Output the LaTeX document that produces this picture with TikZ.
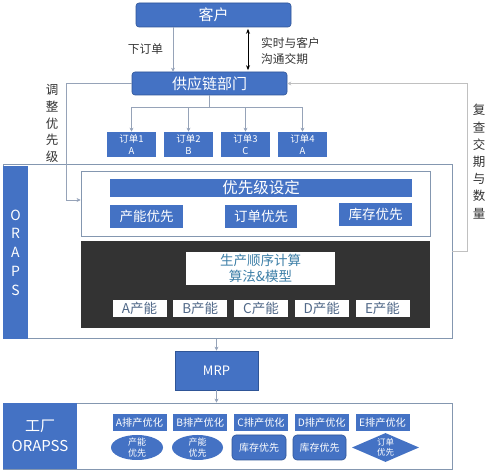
\documentclass[tikz,border=0pt]{standalone}
\usepackage{fontspec}
\setmainfont{Noto Sans CJK SC}
\usetikzlibrary{arrows.meta,shapes.geometric}
\definecolor{office}{RGB}{68, 114, 196}
\definecolor{officedark}{RGB}{47, 85, 151}
\definecolor{slate}{RGB}{132, 151, 176}
\definecolor{linegray}{RGB}{150, 163, 184}
\definecolor{lightgray}{RGB}{192, 192, 192}
\definecolor{coal}{RGB}{51, 51, 51}
\definecolor{tealtext}{RGB}{62, 128, 168}
\definecolor{captext}{RGB}{80, 104, 136}
\tikzset{
  bluebox/.style={draw=officedark, fill=office, text=white, line width=0.6pt, inner sep=0pt, align=center},
  whitebox/.style={draw=slate, fill=white, line width=0.8pt, inner sep=0pt},
  capbox/.style={fill=white, text=captext, inner sep=0pt, minimum width=54pt, minimum height=17pt, font=\fontsize{13.5}{15}\selectfont},
  planbox/.style={bluebox, draw=none, minimum width=54pt, minimum height=17pt, font=\fontsize{10.2}{12}\selectfont},
  conn/.style={draw=linegray, line width=0.7pt, -{Stealth[length=4pt, width=4pt, fill=office]}},
  connlight/.style={draw=lightgray, line width=0.7pt, -{Stealth[length=4pt, width=4pt, fill=office]}},
  vtext/.style={align=center, inner sep=0pt, text=black!80}
}
\begin{document}
\lineskiplimit=-\maxdimen
\begin{tikzpicture}[x=1pt, y=-1pt]
  \useasboundingbox (0,0) rectangle (499,470);

  \node[bluebox, rounded corners=3pt, minimum width=155pt, minimum height=24pt, font=\fontsize{15}{18}\selectfont] (kehu) at (213.5,15.0) {客户};
  \node[bluebox, rounded corners=3pt, minimum width=155pt, minimum height=23pt, font=\fontsize{15}{18}\selectfont] (gyl)  at (209.5,83.5) {供应链部门};

  \coordinate (xorder) at (173,0);
  \coordinate (xtalk)  at (248,0);
  \draw[conn] (kehu.south -| xorder) -- (gyl.north -| xorder);
  \draw[black, line width=0.8pt, {Stealth[length=5pt, width=4pt]}-{Stealth[length=5pt, width=4pt]}, shorten <=1.5pt, shorten >=1.5pt] (kehu.south -| xtalk) -- (gyl.north -| xtalk);
  \node[inner sep=0pt, font=\fontsize{11.7}{14}\selectfont, text=black!80] (xiadan) at (145.5,49.5) {下订单};
  \node[inner sep=0pt, align=left, font=\fontsize{11.7}{16}\selectfont, text=black!80, anchor=west] (goutong) at (261,51) {实时与客户\\沟通交期};

  \foreach \i/\x/\p in {1/131.5/A, 2/188.5/B, 3/245.5/C, 4/302.5/A}{
    \node[bluebox, draw=none, minimum width=49pt, minimum height=25pt, font=\fontsize{9.5}{12.5}\selectfont] (order\i) at (\x,144.5) {订单\i\\\p};
    \draw[conn] (gyl.south) -- ++(0,12.5) -| (order\i.north);
  }

  \node[whitebox, minimum width=449pt, minimum height=174pt] (oraps) at (227.5,251.5) {};
  \node[fill=office, inner sep=0pt, minimum width=25pt, minimum height=173pt, text=white, align=center, font=\fontsize{14}{18.7}\selectfont] (orapsbar) at (15.5,252.5) {O\\R\\A\\P\\S};

  \node[whitebox, minimum width=349pt, minimum height=65pt] (prio) at (255.5,203.5) {};
  \node[bluebox, draw=none, minimum width=302pt, minimum height=18pt, font=\fontsize{15.5}{18}\selectfont] (yxjsd) at (261.0,188.0) {优先级设定};
  \node[bluebox, draw=none, minimum width=73pt, minimum height=23pt, font=\fontsize{13.5}{16}\selectfont] (cnyx) at (146.5,216.5) {产能优先};
  \node[bluebox, draw=none, minimum width=72pt, minimum height=23pt, font=\fontsize{13.5}{16}\selectfont] (ddyx) at (261.0,216.5) {订单优先};
  \node[bluebox, draw=none, minimum width=73pt, minimum height=23pt, font=\fontsize{13.5}{16}\selectfont] (kcyx) at (375.5,214.5) {库存优先};

  \node[fill=coal, inner sep=0pt, minimum width=349pt, minimum height=87pt] (calc) at (255.5,284.5) {};
  \node[fill=white, inner sep=0pt, minimum width=149pt, minimum height=33pt, align=center, text=tealtext, font=\fontsize{13.5}{15.5}\selectfont] (algo) at (260.5,268.5) {生产顺序计算\\算法\&模型};
  \foreach \i/\c in {0/A, 1/B, 2/C, 3/D, 4/E}{
    \node[capbox] (cap\c) at (139.5+60.75*\i,308.5) {\c 产能};
  }

  \coordinate (lbend) at (66,200);
  \draw[conn] (gyl.west) -| (lbend) -- (lbend -| prio.west);
  \node[vtext, font=\fontsize{12.5}{16.8}\selectfont] (tiaozheng) at (52,123.5) {调\\整\\优\\先\\级};

  \draw[connlight] (oraps.east) -- ++(15,0) |- (gyl.east);
  \node[vtext, font=\fontsize{12.5}{17.2}\selectfont] (fucha) at (479,161.5) {复\\查\\交\\期\\与\\数\\量};

  \node[bluebox, minimum width=83pt, minimum height=39pt, font=\fontsize{13}{16}\selectfont] (mrp) at (216.5,370.5) {MRP};
  \draw[conn] (oraps.south -| mrp.north) -- (mrp.north);

  \node[whitebox, minimum width=449pt, minimum height=66.5pt] (fac) at (227.5,436.25) {};
  \node[fill=office, inner sep=0pt, minimum width=74pt, minimum height=65.5pt, text=white, align=center, font=\fontsize{15}{20}\selectfont] (facbar) at (40.0,436.25) {工厂\\ORAPSS};
  \draw[conn] (mrp.south) -- (mrp.south |- fac.north);

  \foreach \i/\c in {0/A, 1/B, 2/C, 3/D, 4/E}{
    \node[planbox] (plan\c) at (139.5+60.75*\i,422.5) {\c 排产优化};
  }
  \node[ellipse, fill=office, inner sep=0pt, minimum width=52pt, minimum height=25pt,
        label={[align=center, text=white, font=\fontsize{9}{11}\selectfont]center:产能\\优先}] (shapeA) at (137.0,447.5) {};
  \node[ellipse, fill=office, inner sep=0pt, minimum width=51pt, minimum height=25pt,
        label={[align=center, text=white, font=\fontsize{9}{11}\selectfont]center:产能\\优先}] (shapeB) at (197.5,447.5) {};
  \node[bluebox, rounded corners=4pt, minimum width=54pt, minimum height=25pt, font=\fontsize{10}{12}\selectfont] (shapeC) at (259.0,447.5) {库存优先};
  \node[bluebox, rounded corners=4pt, minimum width=53pt, minimum height=25pt, font=\fontsize{10}{12}\selectfont] (shapeD) at (319.5,447.5) {库存优先};
  \node[diamond, fill=office, inner sep=0pt, minimum width=67pt, minimum height=29pt,
        label={[align=center, text=white, font=\fontsize{8.5}{10.5}\selectfont]center:订单\\优先}] (shapeE) at (385.5,447.5) {};
\end{tikzpicture}
\end{document}
